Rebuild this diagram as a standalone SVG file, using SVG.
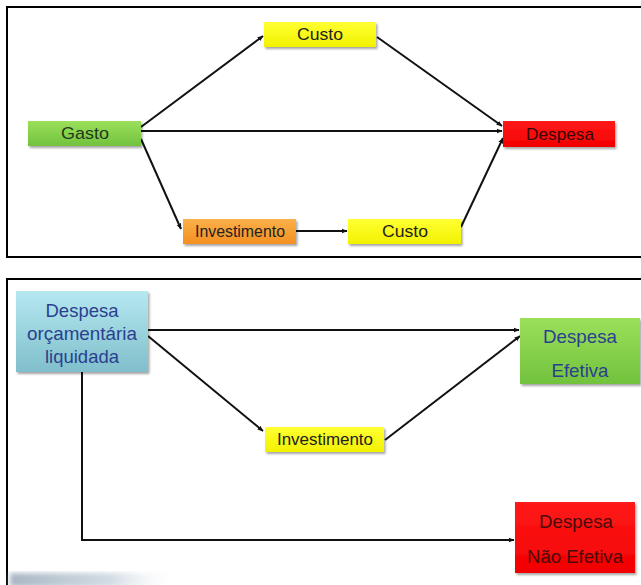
<svg xmlns="http://www.w3.org/2000/svg" width="641" height="585" viewBox="0 0 641 585">
  <defs>
    <linearGradient id="gGreen" x1="0" y1="0" x2="0" y2="1">
      <stop offset="0" stop-color="#9be05a"/>
      <stop offset="1" stop-color="#72c23e"/>
    </linearGradient>
    <linearGradient id="gYellow" x1="0" y1="0" x2="0" y2="1">
      <stop offset="0" stop-color="#ffff33"/>
      <stop offset="1" stop-color="#f2f200"/>
    </linearGradient>
    <linearGradient id="gOrange" x1="0" y1="0" x2="0" y2="1">
      <stop offset="0" stop-color="#fbb04a"/>
      <stop offset="1" stop-color="#f39022"/>
    </linearGradient>
    <linearGradient id="gRed" x1="0" y1="0" x2="0" y2="1">
      <stop offset="0" stop-color="#ff1a1a"/>
      <stop offset="1" stop-color="#f20000"/>
    </linearGradient>
    <linearGradient id="gBlue" x1="0" y1="0" x2="0" y2="1">
      <stop offset="0" stop-color="#b6e8f0"/>
      <stop offset="1" stop-color="#7fbfcb"/>
    </linearGradient>
    <linearGradient id="gSmudge" x1="0" y1="0" x2="1" y2="0">
      <stop offset="0" stop-color="#a9b7c4"/>
      <stop offset="0.6" stop-color="#d3dce4"/>
      <stop offset="1" stop-color="#ffffff" stop-opacity="0"/>
    </linearGradient>
    <filter id="shadow" x="-10%" y="-20%" width="125%" height="150%">
      <feDropShadow dx="1.5" dy="2" stdDeviation="1.2" flood-color="#000" flood-opacity="0.35"/>
    </filter>
    <filter id="haze">
      <feGaussianBlur stdDeviation="2.5"/>
    </filter>
    <marker id="arrow" viewBox="0 0 10 10" refX="9" refY="5" markerWidth="6" markerHeight="6" orient="auto" markerUnits="userSpaceOnUse">
      <path d="M0,1 L10,5 L0,9 z" fill="#111"/>
    </marker>
  </defs>
  <style>
    .frame { fill: none; stroke: #000; stroke-width: 2; }
    .box { stroke: none; filter: url(#shadow); }
    .edge { fill: none; stroke: #111; stroke-width: 2; marker-end: url(#arrow); }
    .lbl { font-family: "Liberation Sans", Arial, sans-serif; font-size: 17px; text-anchor: middle; dominant-baseline: central; fill: #222; }
    .big { font-size: 19px; }
    .blue { fill: #2b3f8f; }
    .dred { fill: #4a0a0a; }
  </style>

  <rect width="641" height="585" fill="#fff"/>

  <!-- panel frames (open on the right) -->
  <path class="frame" d="M645,7 H7 V257 H645"/>
  <path class="frame" d="M645,279 H7 V590"/>

  <!-- faint smudge at lower-left edge -->
  <rect x="10" y="573" width="170" height="14" fill="url(#gSmudge)" filter="url(#haze)"/>

  <!-- connectors -->
  <g id="connectors">
    <line class="edge" x1="141" y1="127" x2="263" y2="36"/>
    <line class="edge" x1="377" y1="37" x2="502" y2="126"/>
    <line class="edge" x1="141" y1="131" x2="502" y2="131"/>
    <line class="edge" x1="141" y1="139" x2="181" y2="229"/>
    <line class="edge" x1="296" y1="231" x2="347" y2="231"/>
    <line class="edge" x1="461" y1="227" x2="503" y2="138"/>

    <line class="edge" x1="148" y1="330" x2="519" y2="330"/>
    <line class="edge" x1="148" y1="336" x2="263" y2="431"/>
    <line class="edge" x1="385" y1="440" x2="520" y2="336"/>
    <polyline class="edge" points="82,372 82,540 514,540"/>
  </g>

  <!-- top flow nodes -->
  <g id="custo-top">
    <rect class="box" x="264" y="22" width="112" height="25" fill="url(#gYellow)"/>
    <text class="lbl" x="320" y="34.5" textLength="46" lengthAdjust="spacingAndGlyphs">Custo</text>
  </g>
  <g id="gasto">
    <rect class="box" x="28" y="121" width="113" height="25" fill="url(#gGreen)"/>
    <text class="lbl" x="85" y="133.5" textLength="48" lengthAdjust="spacingAndGlyphs" style="fill:#1f3a1a">Gasto</text>
  </g>
  <g id="despesa">
    <rect class="box" x="503" y="121" width="112" height="26" fill="url(#gRed)"/>
    <text class="lbl" x="560" y="134" textLength="68" lengthAdjust="spacingAndGlyphs" style="fill:#3a0505">Despesa</text>
  </g>
  <g id="investimento-top">
    <rect class="box" x="183" y="219" width="113" height="25" fill="url(#gOrange)"/>
    <text class="lbl" x="240" y="231.5" textLength="90" lengthAdjust="spacingAndGlyphs">Investimento</text>
  </g>
  <g id="custo-bottom">
    <rect class="box" x="348" y="219" width="113" height="25" fill="url(#gYellow)"/>
    <text class="lbl" x="405" y="231.5" textLength="46" lengthAdjust="spacingAndGlyphs">Custo</text>
  </g>

  <!-- lower flow nodes -->
  <g id="despesa-orcamentaria">
    <rect class="box" x="16" y="291" width="132" height="81" fill="url(#gBlue)"/>
    <text class="lbl big blue" x="82" y="310" textLength="73" lengthAdjust="spacingAndGlyphs">Despesa</text>
    <text class="lbl big blue" x="82" y="333" textLength="110" lengthAdjust="spacingAndGlyphs">orçamentária</text>
    <text class="lbl big blue" x="82" y="356" textLength="74" lengthAdjust="spacingAndGlyphs">liquidada</text>
  </g>
  <g id="despesa-efetiva">
    <rect class="box" x="520" y="318" width="120" height="66" fill="url(#gGreen)"/>
    <text class="lbl big blue" x="580" y="336" textLength="74" lengthAdjust="spacingAndGlyphs">Despesa</text>
    <text class="lbl big blue" x="580" y="370" textLength="57" lengthAdjust="spacingAndGlyphs">Efetiva</text>
  </g>
  <g id="investimento">
    <rect class="box" x="265" y="427" width="119" height="25" fill="url(#gYellow)"/>
    <text class="lbl" x="325" y="439.5" textLength="96" lengthAdjust="spacingAndGlyphs">Investimento</text>
  </g>
  <g id="despesa-nao-efetiva">
    <rect class="box" x="515" y="502" width="120" height="71" fill="url(#gRed)"/>
    <text class="lbl big dred" x="576" y="521" textLength="74" lengthAdjust="spacingAndGlyphs">Despesa</text>
    <text class="lbl big dred" x="575" y="556" textLength="96" lengthAdjust="spacingAndGlyphs">Não Efetiva</text>
  </g>
</svg>
